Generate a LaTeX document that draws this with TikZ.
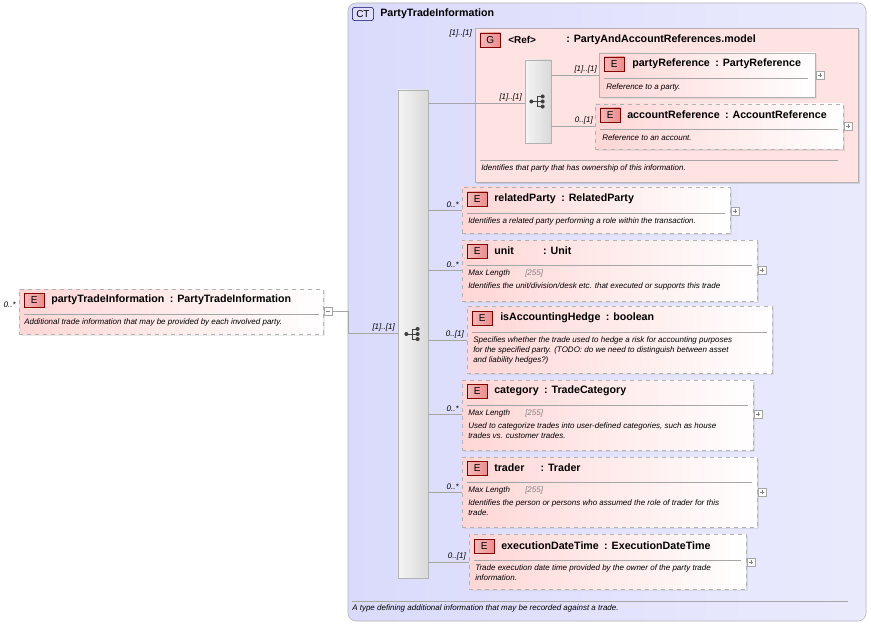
\documentclass[tikz,border=0pt]{standalone}
\usepackage{fontspec}
\setmainfont{Liberation Sans}
\usetikzlibrary{fit,shadows}

\definecolor{ctblue}{RGB}{218,218,252}
\definecolor{elpink}{RGB}{255,214,214}
\definecolor{grpink}{RGB}{255,226,226}
\definecolor{badgered}{RGB}{236,140,140}

\tikzset{
  ct/.style={draw=gray!60, rounded corners=6pt, left color=ctblue, right color=ctblue!55!white},
  elem/.style={draw=gray!60, left color=elpink, right color=white, inner sep=0pt,
    drop shadow={opacity=0.15, shadow xshift=1.5pt, shadow yshift=-1.5pt}},
  opt/.style={elem, dashed},
  grp/.style={draw=gray!60, fill=grpink, inner sep=0pt,
    drop shadow={opacity=0.25, shadow xshift=1.5pt, shadow yshift=-1.5pt}},
  seq/.style={draw=gray!60, left color=gray!8, right color=gray!30, inner sep=0pt},
  badge/.style={draw=red!50!black, left color=badgered!60!white, right color=badgered,
    minimum width=15pt, minimum height=10.5pt, inner sep=0pt, font=\fontsize{7.5}{8}\selectfont},
  ctbadge/.style={draw=blue!40!black, fill=ctblue!70!blue!30, rounded corners=2pt,
    minimum width=16pt, minimum height=10pt, inner sep=0pt, font=\fontsize{7.5}{8}\selectfont},
  nm/.style={font=\bfseries\fontsize{8}{9.5}\selectfont, inner sep=0pt, anchor=west},
  doc/.style={font=\itshape\fontsize{6}{7.5}\selectfont, inner sep=0pt, anchor=north west, align=left},
  ml/.style={font=\itshape\fontsize{6}{7}\selectfont, inner sep=0pt, anchor=west},
  mult/.style={font=\itshape\fontsize{6}{7}\selectfont, inner sep=0pt, anchor=south east},
  sep/.style={draw=gray!70, thin},
  conn/.style={draw=gray!70, thin},
  pm/.style={draw=gray!70, fill=white, minimum size=6pt, inner sep=0pt},
}
\newcommand\plusbox[2]{\node[pm] (#1) at (#2) {};
  \draw[gray] ([xshift=-1.8pt]#1.center) -- ([xshift=1.8pt]#1.center)
    ([yshift=-1.8pt]#1.center) -- ([yshift=1.8pt]#1.center);}
\newcommand\seqicon[1]{%
  \fill[black!75] ([xshift=-5pt]#1) circle (1.5pt);
  \draw[black!75, semithick] ([xshift=-5pt]#1) -- ([xshift=-0.5pt]#1)
    ([xshift=-0.5pt,yshift=-3.8pt]#1) -- ([xshift=-0.5pt,yshift=3.8pt]#1)
    ([xshift=-0.5pt,yshift=-3.8pt]#1) -- ([xshift=3.5pt,yshift=-3.8pt]#1)
    ([xshift=-0.5pt]#1) -- ([xshift=3.5pt]#1)
    ([xshift=-0.5pt,yshift=3.8pt]#1) -- ([xshift=3.5pt,yshift=3.8pt]#1);
  \foreach \dy in {-3.8,0,3.8} \fill[black!75] ([xshift=3.5pt,yshift=\dy pt]#1) circle (1.5pt);}

\begin{document}
\begin{tikzpicture}[x=0.75pt, y=-0.75pt]
\useasboundingbox (0,0) rectangle (871,624);

% complex type
\path[ct] (348,3) rectangle (866,621);
\node[ctbadge, anchor=west] (ctb) at (352,14) {CT};
\node[nm] (ctname) at (380,14) {PartyTradeInformation};
\draw[sep] (352,601) -- (848,601);
\node[doc] (ctdoc) at (352,604) {A type defining additional information that may be recorded against a trade.};

% root element
\node[opt, fit={(19,289) (323,334)}] (pti) {};
\node[badge, anchor=west] at (24,300) {E};
\node[nm] at (51,300) {partyTradeInformation\enspace: PartyTradeInformation};
\draw[sep] (24,314) -- (319,314);
\node[doc] at (24,318) {Additional trade information that may be provided by each involved party.};
\node[mult, anchor=east] at (16,305) {0..*};
\node[pm] (ptimin) at (328,311) {};
\draw[gray] ([xshift=-1.8pt]ptimin.center) -- ([xshift=1.8pt]ptimin.center);

% main sequence
\node[seq, fit={(398,90) (428,578)}] (seqm) {};
\seqicon{seqm.center}
\draw[conn] (ptimin.east) -- (348,311) -- (348,333) -- (seqm.west |- 0,333);
\node[mult] at (395,331) {[1]..[1]};

% group
\node[grp, fit={(475,28) (858,182)}] (grp) {};
\node[mult] at (472,37) {[1]..[1]};
\node[badge, anchor=west] at (480,40) {G};
\node[nm, font=\bfseries\fontsize{7.5}{9}\selectfont] at (508,40) {<Ref>};
\node[nm] at (566,40) {: PartyAndAccountReferences.model};
\draw[sep] (480,160) -- (838,160);
\node[doc] at (481,164) {Identifies that party that has ownership of this information.};
\node[seq, fit={(525,60) (551,143)}] (seqg) {};
\seqicon{seqg.center}
\draw[conn] (seqm.east |- 0,103) -- (seqg.west |- 0,103);
\node[mult] at (522,101) {[1]..[1]};

% partyReference
\node[elem, fit={(599,53) (815,97)}] (pref) {};
\node[badge, anchor=west] at (604,64) {E};
\node[nm] at (632,64) {partyReference\enspace: PartyReference};
\draw[sep] (604,78) -- (808,78);
\node[doc] at (606,83) {Reference to a party.};
\plusbox{prefp}{820,75}
\draw[conn] (seqg.east |- 0,75) -- (pref.west |- 0,75);
\node[mult] at (597,73) {[1]..[1]};

% accountReference
\node[opt, fit={(595,104) (843,149)}] (aref) {};
\node[badge, anchor=west] at (600,115) {E};
\node[nm] at (627,115) {accountReference\enspace: AccountReference};
\draw[sep] (600,129) -- (838,129);
\node[doc] at (602,134) {Reference to an account.};
\plusbox{arefp}{848,126}
\draw[conn] (seqg.east |- 0,126) -- (aref.west |- 0,126);
\node[mult] at (593,124) {0..[1]};

% relatedParty
\node[opt, fit={(462,187) (730,233)}] (rel) {};
\node[badge, anchor=west] at (467,199) {E};
\node[nm] at (494,199) {relatedParty\enspace: RelatedParty};
\draw[sep] (467,213) -- (725,213);
\node[doc] at (468,217) {Identifies a related party performing a role within the transaction.};
\plusbox{relp}{735,211}
\draw[conn] (seqm.east |- 0,210) -- (rel.west |- 0,210);
\node[mult] at (459,208) {0..*};

% unit
\node[opt, fit={(462,240) (757,301)}] (unit) {};
\node[badge, anchor=west] at (467,251) {E};
\node[nm] at (494,251) {unit\hspace{22pt}: Unit};
\draw[sep] (467,265) -- (752,265);
\node[ml] at (468,273) {Max Length};
\node[ml, text=gray] at (525,273) {[255]};
\node[doc] at (468,282) {Identifies the unit/division/desk etc. that executed or supports this trade};
\plusbox{unitp}{762,270}
\draw[conn] (seqm.east |- 0,270) -- (unit.west |- 0,270);
\node[mult] at (459,268) {0..*};

% isAccountingHedge
\node[opt, fit={(467,306) (772,373)}] (hedge) {};
\node[badge, anchor=west] at (472,318) {E};
\node[nm] at (500,318) {isAccountingHedge\enspace: boolean};
\draw[sep] (472,332) -- (767,332);
\node[doc] at (473,336) {Specifies whether the trade used to hedge a risk for accounting purposes\\for the specified party. (TODO: do we need to distinguish between asset\\and liability hedges?)};
\draw[conn] (seqm.east |- 0,340) -- (hedge.west |- 0,340);
\node[mult] at (464,338) {0..[1]};

% category
\node[opt, fit={(462,380) (753,450)}] (cat) {};
\node[badge, anchor=west] at (467,391) {E};
\node[nm] at (494,391) {category\enspace: TradeCategory};
\draw[sep] (467,405) -- (748,405);
\node[ml] at (468,413) {Max Length};
\node[ml, text=gray] at (525,413) {[255]};
\node[doc] at (468,422) {Used to categorize trades into user-defined categories, such as house\\trades vs. customer trades.};
\plusbox{catp}{758,414}
\draw[conn] (seqm.east |- 0,414) -- (cat.west |- 0,414);
\node[mult] at (459,412) {0..*};

% trader
\node[opt, fit={(462,457) (757,527)}] (trader) {};
\node[badge, anchor=west] at (467,468) {E};
\node[nm] at (494,468) {trader\hspace{12pt}: Trader};
\draw[sep] (467,482) -- (752,482);
\node[ml] at (468,490) {Max Length};
\node[ml, text=gray] at (525,490) {[255]};
\node[doc] at (468,499) {Identifies the person or persons who assumed the role of trader for this\\trade.};
\plusbox{traderp}{762,492}
\draw[conn] (seqm.east |- 0,492) -- (trader.west |- 0,492);
\node[mult] at (459,490) {0..*};

% executionDateTime
\node[opt, fit={(469,534) (746,589)}] (exec) {};
\node[badge, anchor=west] at (474,546) {E};
\node[nm] at (501,546) {executionDateTime\enspace: ExecutionDateTime};
\draw[sep] (474,560) -- (741,560);
\node[doc] at (475,564) {Trade execution date time provided by the owner of the party trade\\information.};
\plusbox{execp}{751,562}
\draw[conn] (seqm.east |- 0,562) -- (exec.west |- 0,562);
\node[mult] at (466,560) {0..[1]};
\end{tikzpicture}
\end{document}
